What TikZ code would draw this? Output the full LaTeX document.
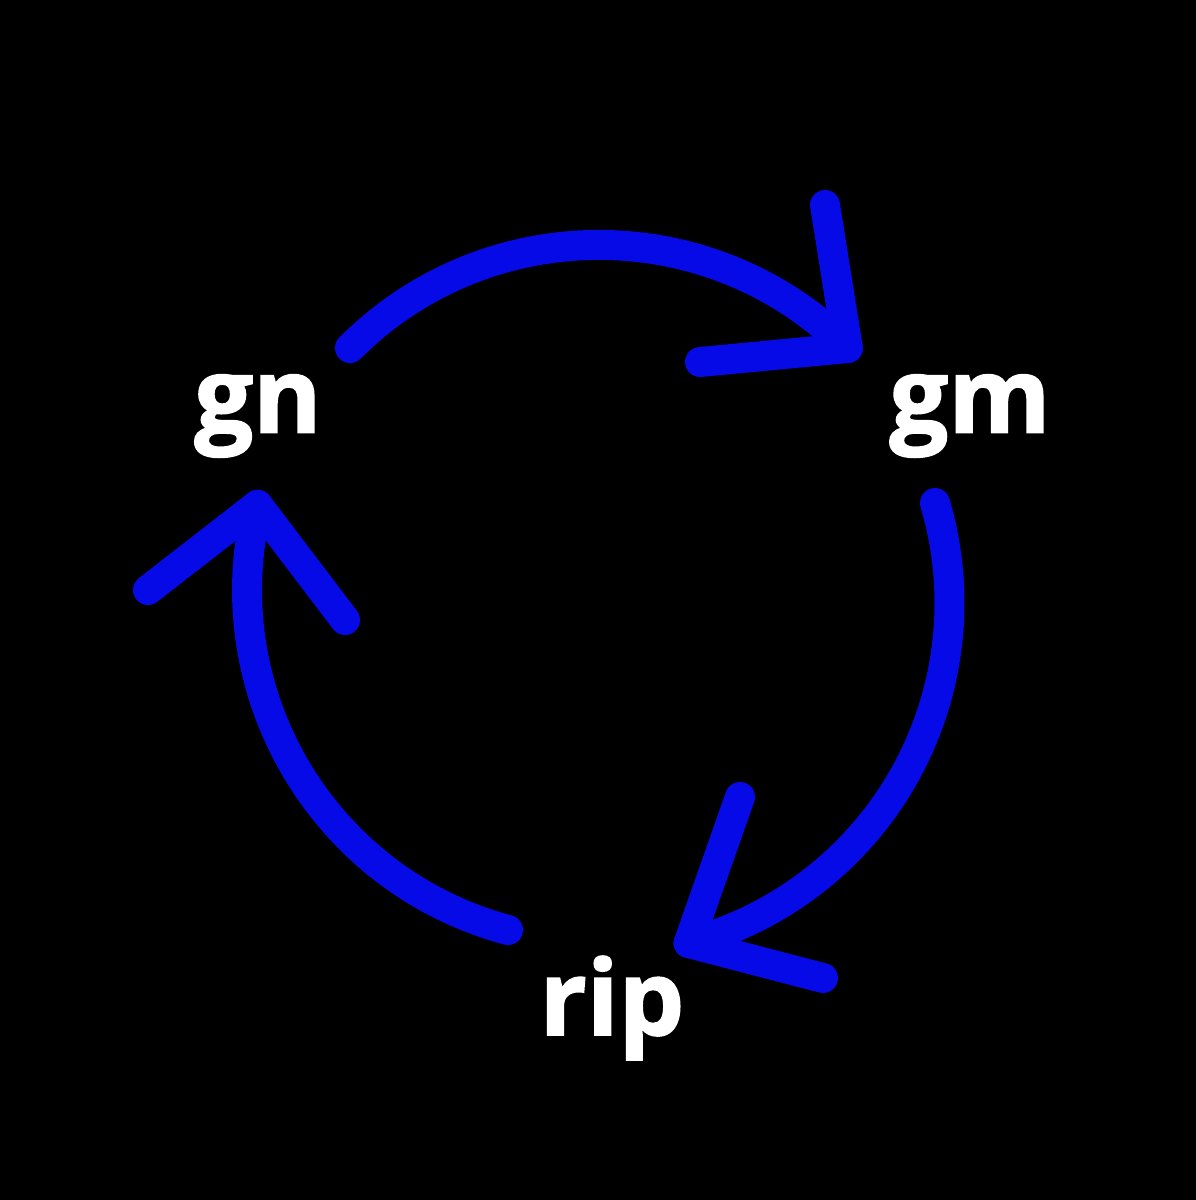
\documentclass[tikz,border=0pt]{standalone}
\usepackage{fontspec}
\setmainfont{Open Sans}[BoldFeatures={FakeBold=1.6}]
\definecolor{arcblue}{RGB}{5,10,230}
\begin{document}
\begin{tikzpicture}[x=1pt,y=-1pt,
  cyc/.style={draw=arcblue,line width=30pt,line cap=round,line join=round},
  lbl/.style={text=white,font=\fontsize{104}{104}\selectfont\bfseries}]
\fill[black] (0,0) rectangle (1196,1200);
\useasboundingbox (0,0) rectangle (1196,1200);
% arc 1
\draw[cyc] (350,348) arc[start angle=135,end angle=45,x radius=352,y radius=-352] coordinate (t1);
\draw[cyc] (825,205) -- (t1) -- (700,362);
% arc 2
\draw[cyc] (935,503) arc[start angle=16.5,end angle=-75,x radius=352,y radius=-352] coordinate (t2);
\draw[cyc] (740,797) -- (t2) -- (823,978);
% arc 3
\draw[cyc] (508,930) arc[start angle=-105,end angle=-194,x radius=352,y radius=-352] coordinate (t3);
\draw[cyc] (148,590) -- (t3) -- (345,620);
\node[lbl] (gn) at (258,416) {gn};
\node[lbl] (gm) at (970,416) {gm};
\node[lbl] (rip) at (612,1008) {rip};
\end{tikzpicture}
\end{document}
